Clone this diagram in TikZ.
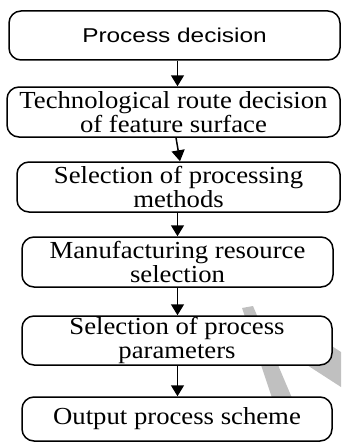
\documentclass[tikz,border=0pt]{standalone}
\usepackage{fontspec}
\setmainfont{Liberation Serif}[FakeStretch=1.09]
\newfontfamily\boxsans{Liberation Sans}[FakeStretch=1.22]
\usetikzlibrary{arrows.meta,calc}
\definecolor{markgray}{RGB}{192,192,192}
\begin{document}
\begin{tikzpicture}[x=1pt,y=-1pt,
  stage/.style={draw=black,line width=1.5pt,fill=white,rounded corners=12pt,
    align=center,inner sep=0pt,font=\fontsize{24.5}{24.5}\selectfont},
  flow/.style={line width=1.5pt,-{Triangle[width=13pt,length=11pt]}},
  faintband/.style={fill=markgray,draw=none}]
  \useasboundingbox (0,0) rectangle (341,444);

  % faint strokes behind the lower boxes
  \fill[faintband] (242,308) -- (253,306) -- (292,398) -- (272,398) -- cycle;
  \fill[faintband] (290,319) -- (341,352) -- (341,387) -- (290,354) -- cycle;

  % process stages
  \node[stage,minimum width=331pt,minimum height=49pt,
        font=\boxsans\fontsize{20}{20}\selectfont] (b1) at (174.5,35.5) {Process decision};
  \node[stage,minimum width=333pt,minimum height=50pt] (b2) at (173.5,112)
        {Technological route decision\\of feature surface};
  \node[stage,minimum width=323pt,minimum height=50pt] (b3) at (178.5,187)
        {Selection of processing\\methods};
  \node[stage,minimum width=311pt,minimum height=50pt] (b4) at (177.5,262)
        {Manufacturing resource\\selection};
  \node[stage,minimum width=310pt,minimum height=49pt] (b5) at (177,340.5)
        {Selection of process\\parameters};
  \node[stage,minimum width=310pt,minimum height=44pt] (b6) at (177,419)
        {Output process scheme};

  % connectors
  \draw[flow] (b1.south -| b4.center) -- (b2.north -| b4.center);
  \draw[flow] ($(b2.south -| b4.center)+(-1.5,0)$) -- ($(b3.north -| b4.center)+(2.5,0)$);
  \draw[flow] (b3.south -| b4.center) -- (b4.north);
  \draw[flow] (b4.south) -- (b5.north -| b4.center);
  \draw[flow] (b5.south -| b4.center) -- (b6.north -| b4.center);
\end{tikzpicture}
\end{document}
